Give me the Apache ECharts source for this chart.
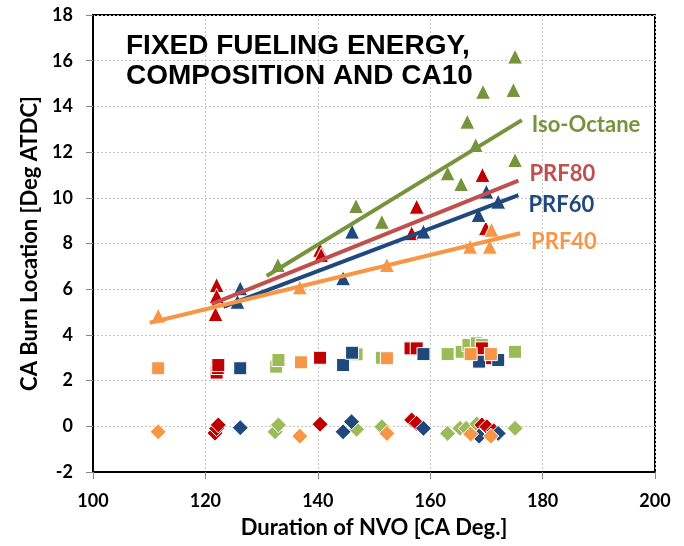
<!DOCTYPE html>
<html>
<head>
<meta charset="utf-8">
<script src="https://cdn.jsdelivr.net/npm/echarts@6/dist/echarts.min.js"></script>
<style>
  html, body { margin: 0; padding: 0; background: #fff; }
  #chart { width: 684px; height: 546px; }
</style>
</head>
<body>
<div id="chart"></div>
<script>
// Burn location (triangles), and two companion burn metrics (squares, diamonds)
// versus NVO duration, for four fuels, each as [NVO duration, CA].
const isoTriangles = [[132.9,7.06],[146.8,9.64],[151.4,8.95],[163.1,11.07],[165.5,10.6],[166.6,13.33],[168.1,12.31],[169.4,14.64],[174.8,14.72],[175.1,16.18],[175.1,11.65]];
const prf80Triangles = [[122.0,6.18],[122.0,5.7],[121.8,4.91],[140.4,7.72],[140.6,7.5],[156.7,8.45],[157.6,9.61],[169.3,11.0],[169.9,8.67]];
const prf60Triangles = [[126.2,6.04],[125.7,5.45],[144.5,6.48],[146.1,8.52],[158.8,8.52],[168.6,9.25],[170.0,10.27],[172.1,9.83]];
const prf40Triangles = [[111.6,4.84],[136.8,6.08],[152.3,7.06],[167.1,7.86],[170.6,7.86],[170.9,8.6]];

const isoSquares = [[132.6,2.61],[133.0,2.9],[146.9,3.15],[151.4,3.0],[163.1,3.16],[165.6,3.26],[166.8,3.56],[168.3,3.63],[169.2,3.56],[175.1,3.26]];
const prf80Squares = [[122.0,2.35],[122.2,2.55],[122.3,2.68],[140.4,3.0],[156.5,3.41],[157.6,3.41],[169.2,3.41],[170.9,2.98]];
const prf60Squares = [[126.2,2.54],[144.5,2.68],[146.1,3.22],[158.8,3.16],[168.7,2.83],[172.1,2.9]];
const prf40Squares = [[111.6,2.54],[137.0,2.8],[152.3,2.98],[167.2,3.16],[170.8,3.16]];

const isoDiamonds = [[132.4,-0.24],[133.0,0.06],[146.9,-0.13],[151.4,-0.02],[163.1,-0.31],[165.3,-0.09],[166.4,-0.09],[168.3,0.1],[175.1,-0.09]];
const prf80Diamonds = [[121.7,-0.3],[122.0,-0.1],[122.3,0.06],[140.4,0.09],[156.7,0.28],[157.6,0.13],[169.2,0.06],[170.1,-0.02],[171.3,-0.2]];
const prf60Diamonds = [[126.2,-0.06],[144.5,-0.24],[146.0,0.2],[158.8,-0.09],[168.7,-0.43],[172.1,-0.31]];
const prf40Diamonds = [[111.6,-0.24],[136.8,-0.43],[152.3,-0.31],[167.2,-0.34],[170.8,-0.43]];

// Linear trend lines through the burn-location points (end points).
const isoTrend = [[130.9,6.58],[176.3,13.40]];
const prf80Trend = [[121.1,5.35],[175.7,10.75]];
const prf60Trend = [[123.2,5.23],[175.7,10.12]];
const prf40Trend = [[110.1,4.53],[176.0,8.45]];

const fuelNames = ['Iso-Octane', 'PRF80', 'PRF60', 'PRF40'];
const xTicks = [100, 120, 140, 160, 180, 200];
const yTicks = [-2, 0, 2, 4, 6, 8, 10, 12, 14, 16, 18];

const markerColors = { iso: '#77933C', prf80: '#C00000', prf60: '#1F497D', prf40: '#F79646' };
const lightGreen = '#9BBB59';
const trendColors = { iso: '#77933C', prf80: '#C0504D', prf60: '#1F497D', prf40: '#F79646' };

const labelFont = 'Lato, "Open Sans", sans-serif';

function scatter(name, data, symbol, size, color) {
  return {
    name, type: 'scatter', data, symbol, symbolSize: size, z: 3,
    itemStyle: { color, borderColor: '#ffffff', borderWidth: 1, opacity: 1 }
  };
}

function trend(name, data, color, offset) {
  return {
    name: name + ' trend', type: 'line', data, z: 5,
    symbol: 'none', silent: true,
    lineStyle: { color, width: 4 },
    endLabel: {
      show: true, formatter: name, color, offset,
      fontFamily: labelFont, fontWeight: 'bold', fontSize: 22
    }
  };
}

const chart = echarts.init(document.getElementById('chart'), null, { renderer: 'canvas' });
chart.setOption({
  animation: false,
  backgroundColor: '#ffffff',
  title: {
    text: 'FIXED FUELING ENERGY,\nCOMPOSITION AND CA10',
    left: 121, top: 26,
    textStyle: {
      fontFamily: '"Liberation Sans", Arial, sans-serif', fontWeight: 'bold',
      fontSize: 28, lineHeight: 30, color: '#000'
    }
  },
  grid: {
    left: 93, right: 29, top: 15, bottom: 74,
    show: true, borderColor: '#000', borderWidth: 2, containLabel: false
  },
  xAxis: {
    type: 'value', min: xTicks[0], max: xTicks[xTicks.length - 1], interval: 20,
    name: 'Duration of NVO [CA Deg.]', nameLocation: 'middle', nameGap: 45,
    nameTextStyle: { fontFamily: labelFont, fontWeight: 'bold', fontSize: 22, color: '#000' },
    axisLine: { show: true, onZero: false, lineStyle: { color: '#000', width: 2 } },
    axisTick: { show: true, length: 7, lineStyle: { color: '#888' } },
    axisLabel: { margin: 20, fontFamily: labelFont, fontWeight: 'bold', fontSize: 18, color: '#000' },
    splitLine: { show: true, lineStyle: { color: '#c4c4c4', type: [2, 2], width: 1 } }
  },
  yAxis: {
    type: 'value', min: yTicks[0], max: yTicks[yTicks.length - 1], interval: 2,
    name: 'CA Burn Location [Deg ATDC]', nameLocation: 'middle', nameGap: 45,
    nameTextStyle: { fontFamily: labelFont, fontWeight: 'bold', fontSize: 22, color: '#000' },
    axisLine: { show: true, onZero: false, lineStyle: { color: '#000', width: 2 } },
    axisTick: { show: true, length: 7, lineStyle: { color: '#888' } },
    axisLabel: { margin: 20, fontFamily: labelFont, fontWeight: 'bold', fontSize: 18, color: '#000' },
    splitLine: { show: true, lineStyle: { color: '#c4c4c4', type: [2, 2], width: 1 } }
  },
  series: [
    scatter('Iso-Octane squares', isoSquares, 'rect', 13, lightGreen),
    scatter('PRF80 squares', prf80Squares, 'rect', 13, markerColors.prf80),
    scatter('PRF60 squares', prf60Squares, 'rect', 13, markerColors.prf60),
    scatter('PRF40 squares', prf40Squares, 'rect', 13, markerColors.prf40),
    scatter('Iso-Octane diamonds', isoDiamonds, 'diamond', 16, lightGreen),
    scatter('PRF80 diamonds', prf80Diamonds, 'diamond', 16, markerColors.prf80),
    scatter('PRF60 diamonds', prf60Diamonds, 'diamond', 16, markerColors.prf60),
    scatter('PRF40 diamonds', prf40Diamonds, 'diamond', 16, markerColors.prf40),
    scatter(fuelNames[0], isoTriangles, 'triangle', 15, markerColors.iso),
    scatter(fuelNames[1], prf80Triangles, 'triangle', 15, markerColors.prf80),
    scatter(fuelNames[2], prf60Triangles, 'triangle', 15, markerColors.prf60),
    scatter(fuelNames[3], prf40Triangles, 'triangle', 15, markerColors.prf40),
    trend(fuelNames[0], isoTrend, trendColors.iso, [2, 5]),
    trend(fuelNames[1], prf80Trend, trendColors.prf80, [3, -7]),
    trend(fuelNames[2], prf60Trend, trendColors.prf60, [2, 10]),
    trend(fuelNames[3], prf40Trend, trendColors.prf40, [3, 9])
  ]
});
</script>
</body>
</html>
